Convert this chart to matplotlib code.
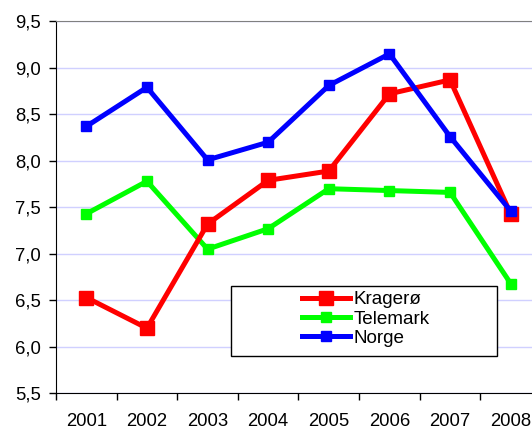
import numpy as np
import matplotlib
matplotlib.use('Agg')
from matplotlib import pyplot as plt
from matplotlib.patches import Rectangle

plt.rcParams['font.family'] = ['Liberation Sans', 'DejaVu Sans']

years = ['2001', '2002', '2003', '2004', '2005', '2006', '2007', '2008']
kragero = [6.53, 6.20, 7.32, 7.79, 7.89, 8.72, 8.87, 7.43]
telemark = [7.43, 7.78, 7.05, 7.27, 7.70, 7.68, 7.66, 6.68]
norge = [8.37, 8.79, 8.01, 8.20, 8.81, 9.15, 8.26, 7.46]
yticks = [5.5, 6.0, 6.5, 7.0, 7.5, 8.0, 8.5, 9.0, 9.5]
ytick_labels = ['5,5', '6,0', '6,5', '7,0', '7,5', '8,0', '8,5', '9,0', '9,5']

W, H = 532, 430
fig = plt.figure(figsize=(W / 100, H / 100), dpi=100)
# plot area runs past the right edge of the picture, as in the original
ax = fig.add_axes([56 / W, 36.7 / H, 485 / W, 372 / H])

x = np.arange(1, len(years) + 1)
ax.plot(x, telemark, color='#00ff00', lw=3.6, marker='s', ms=6.8,
        label='Telemark', zorder=3)
ax.plot(x, kragero, color='#ff0000', lw=3.6, marker='s', ms=9.8,
        label='Kragerø', zorder=4)
ax.plot(x, norge, color='#0000ff', lw=3.6, marker='s', ms=6.8,
        label='Norge', zorder=5)

ax.set_xlim(0.5, len(years) + 0.5)
ax.set_ylim(5.5, 9.5)
ax.set_yticks(yticks)
ax.set_yticklabels(ytick_labels)
ax.set_xticks(np.arange(0.5, len(years) + 1, 1))
ax.set_xticklabels([])
ax.set_xticks(x, minor=True)
ax.set_xticklabels(years, minor=True)
ax.tick_params(axis='both', which='major', direction='out', length=5,
               width=1, labelsize=13.3, pad=6, colors='black')
ax.tick_params(axis='x', which='minor', length=0, labelsize=13.3, pad=14.5)

ax.grid(axis='y', color='#d0d0ff', lw=1, zorder=0)
ax.set_axisbelow(True)
ax.spines['right'].set_visible(False)
ax.spines['top'].set_color('#808080')
ax.spines['left'].set_color('black')
ax.spines['bottom'].set_color('black')

# legend frame drawn separately so it can be wider than its entries
bx0 = (231 - 56) / 485
by0 = (393.3 - 356) / 372
ax.add_patch(Rectangle((bx0, by0), (497 - 231) / 485, 70 / 372,
                       transform=ax.transAxes, facecolor='white',
                       edgecolor='black', lw=1, zorder=6))
handles, labels = ax.get_legend_handles_labels()
order = [1, 0, 2]
leg = ax.legend([handles[i] for i in order], [labels[i] for i in order],
                loc='center', bbox_to_anchor=((366 - 56) / 485, (393.3 - 319) / 372),
                frameon=False, fontsize=13.6, handlelength=2.5, handletextpad=0.2,
                labelspacing=0.12, borderpad=0, numpoints=1)
leg.set_zorder(7)

fig.savefig('out.png', dpi=100)
